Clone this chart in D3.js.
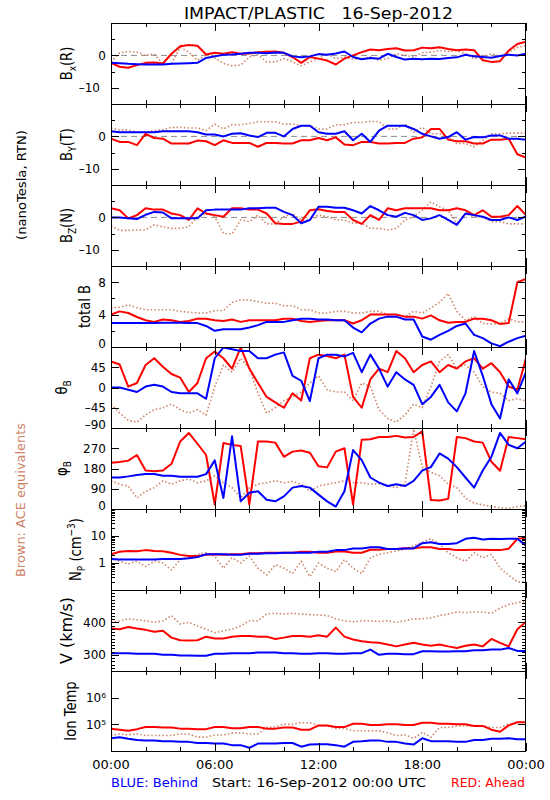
<!DOCTYPE html>
<html><head><meta charset="utf-8">
<script src="https://cdn.jsdelivr.net/npm/d3@7"></script>
<style>body{margin:0;background:#fff}text{white-space:pre}</style>
</head><body>
<script>
// ---- time axis (hours since 16-Sep-2012 00:00 UTC), samples every 30 min ----
const xTickHours = [0, 6, 12, 18, 24];
const xTickLabels = ["00:00", "06:00", "12:00", "18:00", "00:00"];
const xMinorHours = [2, 4, 8, 10, 14, 16, 20, 22];

// ---- Bx (R), nT ----
const bxBehind = [-2.3,-2.4, -2.6,-2.7, -2.8,-2.8, -2.8,-2.6, -2.5,-2.4, -2.3,-0.8, -0.3,0.2, 0.3,0.5, 0.8,0.8, 0.7,0.9, 0.8,-0.3, -0.6,-0.3, 0.4,0.2, 0.6,1.2, -0.5,-1.2, -0.8,-1.0, 0.5,-0.5, -1.3,-1.0, -1.2,-1.0, -1.1,-0.8, -0.6,0.2, -0.3,-0.5, -0.7,-0.2, 0.2,0.0, 0.5];
const bxAhead  = [-2.3,-3.5, -3.8,-3.0, -2.3,-2.2, -2.5,0.5, 2.8,3.2, 3.0,0.3, 0.8,0.5, 1.0,0.5, 0.6,1.0, 1.1,1.2, 0.8,-0.5, -2.3,-0.5, -1.0,-1.6, -2.8,-1.0, 0.0,1.0, 1.8,1.6, 2.0,2.2, 1.5,1.6, 2.4,2.2, 2.5,2.0, 1.6,1.8, 1.6,-1.5, -2.0,-1.8, 1.5,3.5, 4.2];
const bxAce    = [-2.0,0.8, 1.2,1.0, 0.0,0.5, -2.8,-2.5, 2.5,1.0, -1.5,0.2, -0.8,-2.5, -3.2,-3.0, -0.5,0.2, -2.0,-2.0, -1.0,-2.0, -3.2,-2.0, -1.0,0.5, -1.0,-0.5, -1.2,-1.0, -0.5,-1.5, -1.0,0.5, 0.0,-0.5, 0.8,1.0, 1.5,1.2, 1.5,0.5, -1.0,-0.5, 0.5,-0.2, 1.0,2.5, 3.0];

// ---- By (T), nT ----
const byBehind = [1.6,1.3, 1.3,1.3, 1.3,1.3, 1.6,1.6, 1.6,1.6, 1.3,0.6, 0.6,0.0, 0.8,1.0, 0.3,-0.2, 1.1,1.1, 0.0,2.3, 3.3,3.3, 1.3,0.8, 0.8,1.6, -1.2,0.8, -1.7,1.8, 3.3,3.3, 3.3,2.3, 0.8,0.0, -0.7,-0.2, 1.3,-1.0, -0.2,-0.3, 0.3,0.3, -0.7,-0.7, -1.0];
const byAhead  = [-0.7,-1.7, -1.7,-2.7, 0.8,-0.5, -0.7,-2.2, -2.2,-2.2, -1.3,-1.5, -2.7,-1.2, -2.0,-2.0, -2.0,-3.2, -2.0,-2.0, -2.2,-2.2, -1.2,-1.2, -0.5,-1.2, -0.3,-2.5, -2.7,-1.7, -1.7,-2.2, -2.2,-2.0, -2.0,-0.7, -0.3,2.3, 2.3,-1.0, -1.5,-1.5, -2.2,-2.2, -1.0,-1.0, -0.7,-5.5, -6.5];
const byAce    = [2.6,2.0, 2.0,1.3, 1.3,1.8, 2.0,2.8, 2.8,2.6, 2.6,1.8, 3.8,2.3, 3.6,3.6, 4.0,4.5, 4.5,4.5, 3.8,3.8, 3.3,3.3, 2.3,2.3, 3.6,3.6, 4.3,4.3, 4.6,4.6, 2.3,2.3, 3.8,1.3, 2.8,0.8, 0.8,-0.2, -2.2,-2.2, -3.2,-1.2, 0.8,0.8, 1.0,1.0, 1.0];

// ---- Bz (N), nT ----
const bzBehind = [0,0, -0.3,-0.5, 0.8,1.7, 1.5,-0.3, -0.3,-0.3, -0.3,2.2, 2.4,2.4, 2.4,2.4, 2.8,2.8, 3.0,3.0, 1.7,0.7, -1.8,-0.8, 3.3,3.3, 3.0,3.0, 2.2,1.2, 3.5,2.2, 0.7,0.2, 1.4,0.7, -0.8,-0.3, 0.7,-0.8, -2.3,1.2, 0.7,0.2, -0.8,-0.8, 0.0,-0.8, 0.3];
const bzAhead  = [2.8,2.2, -0.3,0.7, 2.8,2.4, 2.4,1.2, 0.7,-0.8, 2.8,1.2, 0.7,0.2, 2.8,2.8, 2.4,2.4, 1.2,-1.8, -2.0,-2.0, -1.3,2.2, 2.5,2.0, 1.7,1.7, -0.8,-2.0, 0.7,-0.8, 2.8,2.2, 2.8,2.8, 2.8,2.8, 2.2,2.2, 2.8,2.2, 0.7,2.2, 0.2,0.2, 0.7,3.5, 0.7];
const bzAce    = [-2.7,-4.0, -4.0,-3.9, -3.9,-2.3, -2.9,-3.4, -3.4,-2.9, 0.2,1.2, 0.2,-4.9, -5.1,-0.8, -1.3,0.7, -2.0,-2.0, 0.2,1.2, -0.8,-0.8, 0.7,0.2, -0.8,-0.8, -1.8,-1.8, -3.4,-3.4, -3.9,-3.4, -0.8,0.2, 2.2,4.8, 3.3,2.2, -1.8,1.2, 0.2,0.2, -1.3,-1.3, -2.0,-2.0, -2.0];

// ---- total B, nT ----
const btBehind = [2.95,2.95, 2.95,2.95, 2.95,2.95, 3.0,3.0, 3.0,2.95, 2.95,2.6, 2.0,2.2, 2.2,2.2, 2.4,2.7, 3.1,3.1, 3.1,3.3, 3.5,3.5, 3.4,3.4, 3.3,3.3, 2.4,1.8, 2.9,3.5, 3.75,3.75, 3.4,3.4, 1.3,0.9, 1.5,2.0, 2.6,2.9, 1.5,1.1, 0.45,0.1, 0.65,1.1, 1.4];
const btAhead  = [4.0,4.4, 4.2,3.7, 3.3,3.1, 3.4,3.3, 3.1,3.2, 3.5,3.5, 3.3,3.2, 3.4,3.1, 3.3,3.3, 3.3,3.3, 3.5,3.5, 3.2,3.1, 3.2,3.3, 3.3,3.3, 2.9,3.3, 4.0,4.0, 4.0,4.0, 3.75,3.75, 3.5,3.9, 3.3,3.0, 3.1,3.1, 3.5,3.5, 3.3,2.85, 2.95,8.0, 8.4];
const btAce    = [4.85,4.9, 5.2,4.85, 4.6,4.6, 4.6,4.6, 4.4,4.3, 4.2,4.2, 4.5,4.5, 5.5,5.8, 5.8,5.6, 5.4,5.4, 5.1,5.1, 4.6,4.6, 4.2,4.2, 4.4,4.4, 4.2,4.2, 4.4,4.4, 4.0,4.0, 3.75,4.4, 4.2,4.8, 5.5,6.6, 4.4,3.3, 3.75,2.9, 2.85,2.85, 3.5,3.1, 3.1];

// ---- theta B, deg ----
const thBehind = [0,0, -5,-10, 2,6, 2,-10, -13,-13, -13,-25, 65,89, 85,81, 81,65, 65,73, 78,26, 15,-30, 65,73, 73,69, 77,34, 73,42, 2,34, 18,6, -37,-21, 6,-33, -53,-13, 81,26, -37,-69, 18,-13, 34];
const thAhead  = [58,51, 2,10, 50,65, 46,30, 22,-10, 10,65, 80,65, 42,89, 42,10, -21,-33, -45,-13, -29,65, 73,70, 65,73, -21,-45, 18,42, 34,81, 65,34, 50,58, 34,50, 42,58, 65,42, 54,34, 2,-5, 65];
const thAce    = [-37,-57, -73,-77, -61,-49, -45,-37, -49,-57, -49,-61, 2,50, 34,65, 42,-13, -57,-45, -29,-21, -10,10, 26,-5, -10,-10, -29,10, 2,-49, -69,-77, -61,-37, -45,2, 58,73, 42,50, 34,2, -10,-13, -29,-25, -30];

// ---- phi B, deg ----
const phBehind = [140,140, 145,151, 156,156, 148,148, 143,143, 143,155, 216,49, 323,34, 72,79, 41,34, 56,95, 102,95, 64,34, 11,79, 262,217, 140,117, 102,110, 102,125, 171,186, 247,224, 186,140, 95,171, 232,338, 285,270, 300];
const phAhead  = [205,209, 215,240, 171,168, 171,201, 300,338, 290,240, 20,293, 285,280, 20,300, 300,295, 232,255, 260,250, 190,185, 255,270, 20,308, 310,320, 320,325, 318,320, 345,40, 38,45, 320,315, 300,295, 210,170, 320,315, 310];
const phAce    = [125,110, 102,49, 79,95, 125,110, 125,133, 117,125, 148,117, 95,49, 95,110, 117,125, 117,122, 110,79, 102,110, 117,125, 117,117, 110,113, 102,95, 110,355, 186,163, 148,110, 95,49, 26,18, 11,6, 3,11, 15];

// ---- proton density, cm^-3 ----
const npBehind = [1.42,1.34, 1.34,1.34, 1.34,1.34, 1.42,1.42, 1.42,1.5, 1.65,2.1, 2.1,2.1, 2.0,2.0, 2.2,2.2, 2.3,2.3, 2.4,2.4, 2.4,2.4, 2.6,2.6, 3.0,3.0, 3.45,3.45, 3.8,3.8, 3.3,3.3, 3.45,3.45, 5.4,5.9, 5.1,5.1, 5.4,7.9, 8.6,7.4, 7.9,7.7, 7.9,7.9, 4.4];
const npAhead  = [2.1,2.6, 2.8,2.7, 3.0,2.8, 2.7,2.4, 2.0,1.8, 1.8,2.0, 2.1,2.0, 2.1,2.1, 2.3,2.3, 2.4,2.4, 2.4,2.4, 2.6,2.6, 2.4,2.4, 2.65,2.65, 2.4,2.4, 3.1,3.1, 3.3,3.3, 3.55,3.55, 3.8,3.8, 3.3,3.3, 3.0,3.0, 3.1,3.1, 3.0,3.0, 3.4,7.9, 8.5];
const npAce    = [1.56,1.16, 0.92,1.16, 0.74,1.16, 1.0,0.55, 1.34,1.56, 2.1,2.4, 1.8,0.64, 1.56,1.0, 1.8,0.64, 0.36,0.86, 0.64,0.41, 1.16,0.31, 1.0,0.64, 0.48,1.34, 0.64,0.41, 1.56,2.1, 2.4,2.8, 3.26,4.37, 5.88,7.9, 5.07,2.4, 1.56,1.16, 2.4,1.56, 2.1,0.64, 0.36,0.2, 0.2];

// ---- bulk speed, km/s ----
const vBehind = [305,305, 305,303, 303,303, 300,300, 298,298, 297,297, 303,303, 305,305, 305,307, 307,307, 305,305, 303,303, 305,305, 303,303, 305,305, 316,300, 303,303, 302,302, 311,311, 310,310, 311,311, 314,314, 316,316, 321,312, 312];
const vAhead  = [381,379, 386,381, 377,371, 374,353, 345,344, 345,356, 350,350, 356,358, 358,356, 356,349, 353,358, 358,356, 360,356, 384,356, 347,342, 339,337, 332,326, 332,337, 332,328, 332,326, 321,328, 332,326, 349,337, 326,379, 402];
const vAce    = [400,405, 411,408, 405,400, 405,421, 395,400, 389,379, 368,374, 379,389, 405,405, 426,428, 426,428, 426,424, 423,421, 411,405, 402,405, 405,403, 405,400, 405,411, 411,414, 421,426, 432,430, 432,432, 428,444, 455,461, 465];

// ---- ion temperature, K ----
const tBehind = [30000,33000, 29000,26000, 25000,25000, 23000,23000, 22000,22000, 20000,20000, 19000,19000, 16600,16600, 13200,19000, 19000,19000, 20000,20000, 14500,17400, 17800,17800, 16600,14500, 22000,23000, 25000,25000, 22000,22000, 19000,17400, 30000,23400, 23000,23000, 22000,22000, 26000,26000, 29000,29000, 30000,27500, 27500];
const tAhead  = [69000,63000, 57500,66000, 79000,79000, 76000,76000, 69000,69000, 66000,66000, 79000,79000, 72000,72000, 80000,80000, 69000,69000, 76000,76000, 63000,63000, 91000,91000, 79000,79000, 105000,105000, 95000,95000, 100000,100000, 95000,95000, 115000,115000, 105000,105000, 100000,100000, 87000,87000, 63000,52500, 91000,120000, 120000];
const tAce    = [38000,43600, 40000,43600, 38000,38000, 38000,38000, 43600,43600, 33000,33000, 40000,40000, 48000,48000, 43600,43600, 76000,80000, 100000,100000, 115000,115000, 87000,87000, 70000,70000, 57500,57500, 57500,57500, 48000,38000, 40000,30000, 50000,33000, 76000,76000, 87000,87000, 87000,87000, 76000,76000, 100000,120000, 120000];

// ---- y tick values / labels ----
const bMajor = [-10, 0], bLabels = ["–10", "0"], bMinor = [-15, -5, 5, 10];
const btMajor = [0, 4, 8], btLabels = ["0", "4", "8"], btMinor = [2, 6, 10];
const thMajor = [-90, -45, 0, 45], thLabels = ["–90", "–45", "0", "45"];
const phMajor = [0, 90, 180, 270], phLabels = ["0", "90", "180", "270"];
const npMajor = [1, 10], npLabels = ["1", "10"];
const npMinor = [0.2,0.3,0.4,0.5,0.6,0.7,0.8,0.9,2,3,4,5,6,7,8,9,20,30,40,50,60,70,80,90];
const vMajor = [300, 400], vLabels = ["300", "400"];
const vMinor = d3.range(250, 501, 10).filter(v => v % 100 !== 0);
const tMajor = [1e5, 1e6], tLabels = ["10⁵", "10⁶"];

// ---- layout / style ----
const W = 550, H = 800, L = 111, R = 526;
const edges = d3.range(10).map(i => Math.round(23.3 + i * 80.9));
const BLUE = "#0000ff", RED = "#ff0000", BROWN = "#cd8468";
const FONT = "'DejaVu Sans', sans-serif";

const panels = [
  {title: [["B"], ["x", "sub"], ["(R)"]], tx: 72, domain: [-15, 10], major: bMajor, labels: bLabels, minor: bMinor, zero: true, s: [bxAce, bxAhead, bxBehind]},
  {title: [["B"], ["Y", "sub"], ["(T)"]], tx: 72, domain: [-15, 10], major: bMajor, labels: bLabels, minor: bMinor, zero: true, s: [byAce, byAhead, byBehind]},
  {title: [["B"], ["Z", "sub"], ["(N)"]], tx: 72, domain: [-15, 10], major: bMajor, labels: bLabels, minor: bMinor, zero: true, s: [bzAce, bzAhead, bzBehind]},
  {title: [["total B"]], tx: 90, domain: [0, 10], major: btMajor, labels: btLabels, minor: btMinor, s: [btAce, btAhead, btBehind]},
  {title: [["θ"], ["B", "sub"]], tx: 67, domain: [-90, 90], major: thMajor, labels: thLabels, minor: [], s: [thAce, thAhead, thBehind]},
  {title: [["φ"], ["B", "sub"]], tx: 67, domain: [0, 360], major: phMajor, labels: phLabels, minor: [], s: [phAce, phAhead, phBehind]},
  {title: [["N"], ["P", "sub"], [" (cm"], ["−3", "sup"], [")"]], tx: 81, log: true, domain: [0.1, 100], major: npMajor, labels: npLabels, minor: npMinor, s: [npAce, npAhead, npBehind]},
  {title: [["V (km/s)"]], tx: 72, ts: 1.0, domain: [250, 500], major: vMajor, labels: vLabels, minor: vMinor, s: [vAce, vAhead, vBehind]},
  {title: [["Ion Temp"]], tx: 76, log: true, domain: [1e4, 1e7], major: tMajor, labels: tLabels, minor: [], s: [tAce, tAhead, tBehind]}
];

const svg = d3.select("body").append("svg").attr("width", W).attr("height", H)
  .style("font-family", FONT);
svg.append("rect").attr("width", W).attr("height", H).attr("fill", "#fff");

const x = d3.scaleLinear().domain([0, 24]).range([L, R]);

const seriesStyle = [
  {color: BROWN, width: 1.6, dash: "1.5,2.2"},
  {color: RED, width: 2, dash: null},
  {color: BLUE, width: 2, dash: null}
];

function styleAxis(a) {
  a.select(".domain").remove();
  a.selectAll("line").attr("stroke", "#000").attr("shape-rendering", "crispEdges");
  a.attr("font-family", FONT).attr("font-size", 12);
  a.selectAll("text").attr("fill", "#000");
}

panels.forEach((p, i) => {
  const top = edges[i], bot = edges[i + 1];
  const y = (p.log ? d3.scaleLog() : d3.scaleLinear()).domain(p.domain).range([bot, top]);
  const g = svg.append("g");
  const cid = "clip" + i;
  svg.append("clipPath").attr("id", cid).append("rect")
    .attr("x", L).attr("y", top).attr("width", R - L).attr("height", bot - top);
  const plot = g.append("g").attr("clip-path", `url(#${cid})`);

  if (p.zero) {
    plot.append("line").attr("x1", L).attr("x2", R).attr("y1", y(0)).attr("y2", y(0))
      .attr("stroke", "#8c8c8c").attr("stroke-width", 1).attr("stroke-dasharray", "6,4");
  }

  const line = d3.line().x(d => x(d[0])).y(d => y(d[1]));
  p.s.forEach((vals, k) => {
    const n = vals.length;
    const data = vals.map((v, j) => [j * 24 / (n - 1), v]);
    const st = seriesStyle[k];
    const path = plot.append("path").datum(data).attr("d", line)
      .attr("fill", "none").attr("stroke", st.color).attr("stroke-width", st.width)
      .attr("stroke-linejoin", "round");
    if (st.dash) path.attr("stroke-dasharray", st.dash);
  });

  // y axes
  const lab = new Map(p.major.map((v, k) => [v, p.labels[k]]));
  g.append("g").attr("transform", `translate(${L},0)`)
    .call(d3.axisLeft(y).tickValues(p.major).tickFormat(d => lab.get(d)).tickSize(-8).tickPadding(5))
    .call(styleAxis)
    .call(a => a.selectAll(".tick text").attr("dy", d => (d === p.domain[0] ? "0em" : "0.32em"))
      .attr("x", d => (lab.get(d) === "–10" ? -11 : -5)));
  if (p.minor.length)
    g.append("g").attr("transform", `translate(${L},0)`)
      .call(d3.axisLeft(y).tickValues(p.minor).tickFormat("").tickSize(-4)).call(styleAxis);
  g.append("g").attr("transform", `translate(${R},0)`)
    .call(d3.axisRight(y).tickValues(p.major).tickFormat("").tickSize(-8)).call(styleAxis);
  if (p.minor.length)
    g.append("g").attr("transform", `translate(${R},0)`)
      .call(d3.axisRight(y).tickValues(p.minor).tickFormat("").tickSize(-4)).call(styleAxis);

  // x axes (top & bottom, inward ticks)
  g.append("g").attr("transform", `translate(0,${top})`)
    .call(d3.axisTop(x).tickValues(xTickHours).tickFormat("").tickSize(-8)).call(styleAxis);
  g.append("g").attr("transform", `translate(0,${top})`)
    .call(d3.axisTop(x).tickValues(xMinorHours).tickFormat("").tickSize(-4)).call(styleAxis);
  g.append("g").attr("transform", `translate(0,${bot})`)
    .call(d3.axisBottom(x).tickValues(xTickHours).tickFormat("").tickSize(-8)).call(styleAxis);
  g.append("g").attr("transform", `translate(0,${bot})`)
    .call(d3.axisBottom(x).tickValues(xMinorHours).tickFormat("").tickSize(-4)).call(styleAxis);

  // frame
  g.append("rect").attr("x", L + 0.5).attr("y", top + 0.5).attr("width", R - L - 1).attr("height", bot - top)
    .attr("fill", "none").attr("stroke", "#000").attr("stroke-width", 1).attr("shape-rendering", "crispEdges");

  // y title
  const cy = (top + bot) / 2;
  const tg = svg.append("g").attr("transform", `translate(${p.tx},${cy}) rotate(-90) scale(${p.ts || 0.82},1)`);
  const t = tg.append("text").attr("text-anchor", "middle").attr("font-size", 16).attr("fill", "#000");
  let shift = 0;
  p.title.forEach(([s, kind]) => {
    const target = kind === "sub" ? 4 : kind === "sup" ? -6 : 0;
    const ts = t.append("tspan").text(s).attr("dy", target - shift);
    shift = target;
    if (kind) ts.attr("font-size", 11);
  });
});

// x tick labels under last panel
svg.append("g").selectAll("text").data(xTickHours).join("text")
  .attr("x", d => x(d)).attr("y", 769).attr("text-anchor", "middle")
  .attr("font-size", 13).attr("fill", "#000").text((d, k) => xTickLabels[k]);

// title
svg.append("text").attr("x", (L + R) / 2).attr("y", 18.5).attr("text-anchor", "middle")
  .attr("font-size", 16.5).attr("textLength", 269).attr("lengthAdjust", "spacingAndGlyphs")
  .text("IMPACT/PLASTIC   16-Sep-2012");

// side notes
svg.append("text").attr("transform", "translate(26,185) rotate(-90)").attr("text-anchor", "middle")
  .attr("font-size", 13).attr("textLength", 110).attr("lengthAdjust", "spacingAndGlyphs")
  .text("(nanoTesla, RTN)");
svg.append("text").attr("transform", "translate(25,500) rotate(-90)").attr("text-anchor", "middle")
  .attr("font-size", 13).attr("fill", BROWN).attr("textLength", 154).attr("lengthAdjust", "spacingAndGlyphs")
  .text("Brown: ACE equivalents");

// footer
svg.append("text").attr("x", 111).attr("y", 787).attr("font-size", 13).attr("fill", BLUE)
  .attr("textLength", 87).attr("lengthAdjust", "spacingAndGlyphs").text("BLUE: Behind");
svg.append("text").attr("x", 212).attr("y", 787).attr("font-size", 13).attr("fill", "#000")
  .attr("textLength", 214).attr("lengthAdjust", "spacingAndGlyphs").text("Start: 16-Sep-2012 00:00 UTC");
svg.append("text").attr("x", 451).attr("y", 787).attr("font-size", 13).attr("fill", RED)
  .attr("textLength", 74).attr("lengthAdjust", "spacingAndGlyphs").text("RED: Ahead");
</script>
</body></html>
